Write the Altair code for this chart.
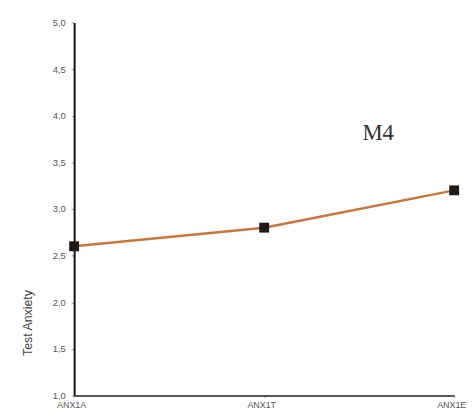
import altair as alt
import pandas as pd

categories = ["ANX1A", "ANX1T", "ANX1E"]
values = [2.6, 2.8, 3.2]
y_ticks = [1.0, 1.5, 2.0, 2.5, 3.0, 3.5, 4.0, 4.5, 5.0]
annotation = ["M4"]

df = pd.DataFrame({"time": categories, "anx": values})

x_enc = alt.X("time:N", sort=categories,
              scale=alt.Scale(type="point", padding=0),
              axis=alt.Axis(title=None, labelAngle=0, labelFont="Liberation Sans",
                            labelFontSize=9, labelColor="#555555", labelPadding=3,
                            labelOffset=-3,
                            tickSize=2, tickColor="#999999", domainColor="#222222",
                            domainWidth=1.5, grid=False))
y_enc = alt.Y("anx:Q", scale=alt.Scale(domain=[1, 5], nice=False, zero=False),
              axis=alt.Axis(title="Test Anxiety", values=y_ticks,
                            labelExpr="replace(format(datum.value, '.1f'), '.', ',')",
                            labelFont="Liberation Sans", labelFontSize=9.5,
                            labelColor="#555555", labelPadding=6,
                            tickSize=3, tickColor="#999999",
                            domainColor="#111111", domainWidth=2, grid=False,
                            titleFont="Liberation Sans", titleFontSize=12.5,
                            titleFontWeight="normal", titleColor="#444444",
                            titleX=-47, titleY=304, titleBaseline="middle"))

line = alt.Chart(df).mark_line(color="#c9743c", strokeWidth=2.5).encode(x=x_enc, y=y_enc)
pts = alt.Chart(df).mark_square(color="#1e1a18", size=100, opacity=1).encode(x=x_enc, y=y_enc)
txt = alt.Chart(pd.DataFrame({"t": annotation})).mark_text(
    font="Liberation Serif", fontSize=23, color="#333333"
).encode(text="t:N", x=alt.value(308), y=alt.value(112))

chart = alt.layer(line, pts, txt).properties(
    width=385, height=378,
    autosize=alt.AutoSizeParams(type="none"),
    padding={"left": 67, "top": 12, "right": 13, "bottom": 12},
    background="white",
).configure_view(stroke=None)

chart.save("out.html", embed_options={"renderer": "svg", "actions": False})
